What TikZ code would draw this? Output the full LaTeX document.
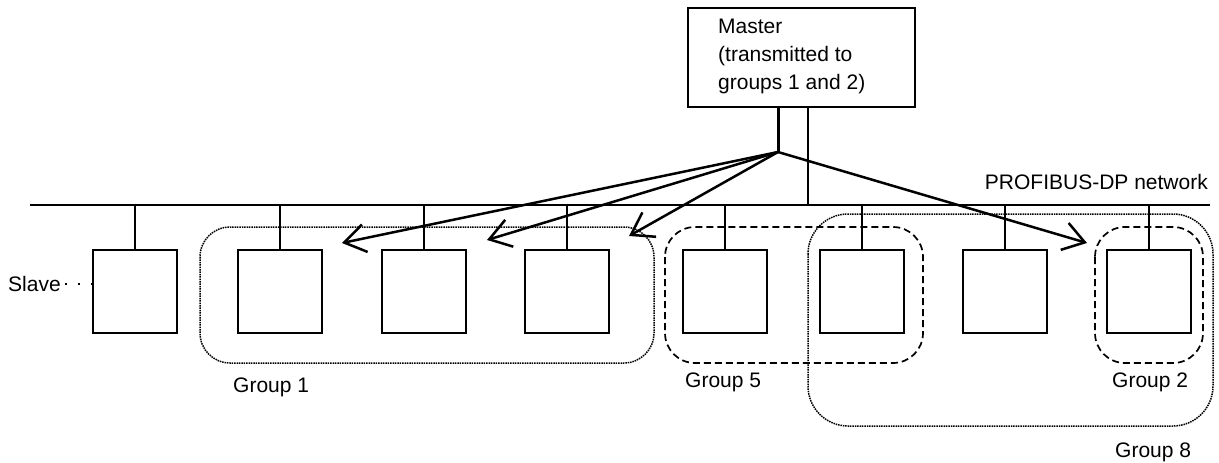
\documentclass[tikz,border=0pt]{standalone}
\usepackage{fontspec}
\setmainfont{Liberation Sans}
\usetikzlibrary{arrows.meta}
\begin{document}
\begin{tikzpicture}[x=1pt,y=-1pt,
  slavebox/.style={draw,line width=1.3pt,fill=white,minimum width=84pt,minimum height=83pt,inner sep=0pt},
  stub/.style={line width=2pt},
  bus/.style={line width=2.4pt},
  lbl/.style={anchor=base west,inner sep=0pt,font=\fontsize{21}{25}\selectfont},
  dotgrp/.style={line width=1.5pt,dash pattern=on 1.5pt off 0.9pt,rounded corners=30pt},
  dashgrp/.style={line width=1.7pt,dash pattern=on 7pt off 4pt,rounded corners=30pt},
  arr/.style={line width=2.5pt,-{Straight Barb[length=21pt,width=28pt,line width=2.5pt]}}
  ]
\useasboundingbox (0,0) rectangle (1219,463);
% groups
\draw[dotgrp] (200,227) rectangle (654,363);
\draw[dotgrp,rounded corners=40pt] (808,214) rectangle (1213,426);
\draw[dashgrp] (665,227) rectangle (923,363);
\draw[dashgrp] (1095,227) rectangle (1203,363);
% network
\coordinate (netL) at (30,205);
\coordinate (netR) at (1210,205);
\draw[bus] (netL) -- (netR);
\node[lbl,anchor=base east] (netlbl) at (1208,189) {PROFIBUS-DP network};
% master
\node[draw,line width=1.3pt,minimum width=227pt,minimum height=99pt,inner sep=0pt] (master) at (801.5,57.5) {};
\node[lbl] (m1) at (718,33) {Master};
\node[lbl] (m2) at (718,61) {(transmitted to};
\node[lbl] (m3) at (718,89) {groups 1 and 2)};
\coordinate (hub) at (778,152);
\coordinate (tap) at (808,205);
\draw[line width=3pt] (master.south -| hub) -- (hub);
\draw[stub] (master.south -| tap) -- (tap);
% slaves
\foreach \i/\x in {1/135,2/280,3/424,4/567,5/725,6/862,7/1005,8/1149}{
  \node[slavebox] (s\i) at (\x,291.5) {};
  \draw[stub] (s\i.north) -- (s\i.north |- netL);
}
\node[lbl] (slavelbl) at (8,291) {Slave};
\draw[line width=2pt,dash pattern=on 2pt off 11pt] (slavelbl.base east) ++(4,-7) coordinate (sd) -- (s1.west |- sd);
% arrows
\coordinate (a1) at (342,243);
\coordinate (a2) at (487,240);
\coordinate (a3) at (629,236);
\coordinate (a4) at (1087,243);
\draw[arr] (hub) -- (a1);
\draw[arr] (hub) -- (a2);
\draw[arr] (hub) -- (a3);
\draw[arr] (hub) -- (a4);
% group labels
\node[lbl] (g1) at (233,392) {Group 1};
\node[lbl] (g5) at (685,387) {Group 5};
\node[lbl] (g2) at (1112,387) {Group 2};
\node[lbl] (g8) at (1115,457) {Group 8};
\end{tikzpicture}
\end{document}
